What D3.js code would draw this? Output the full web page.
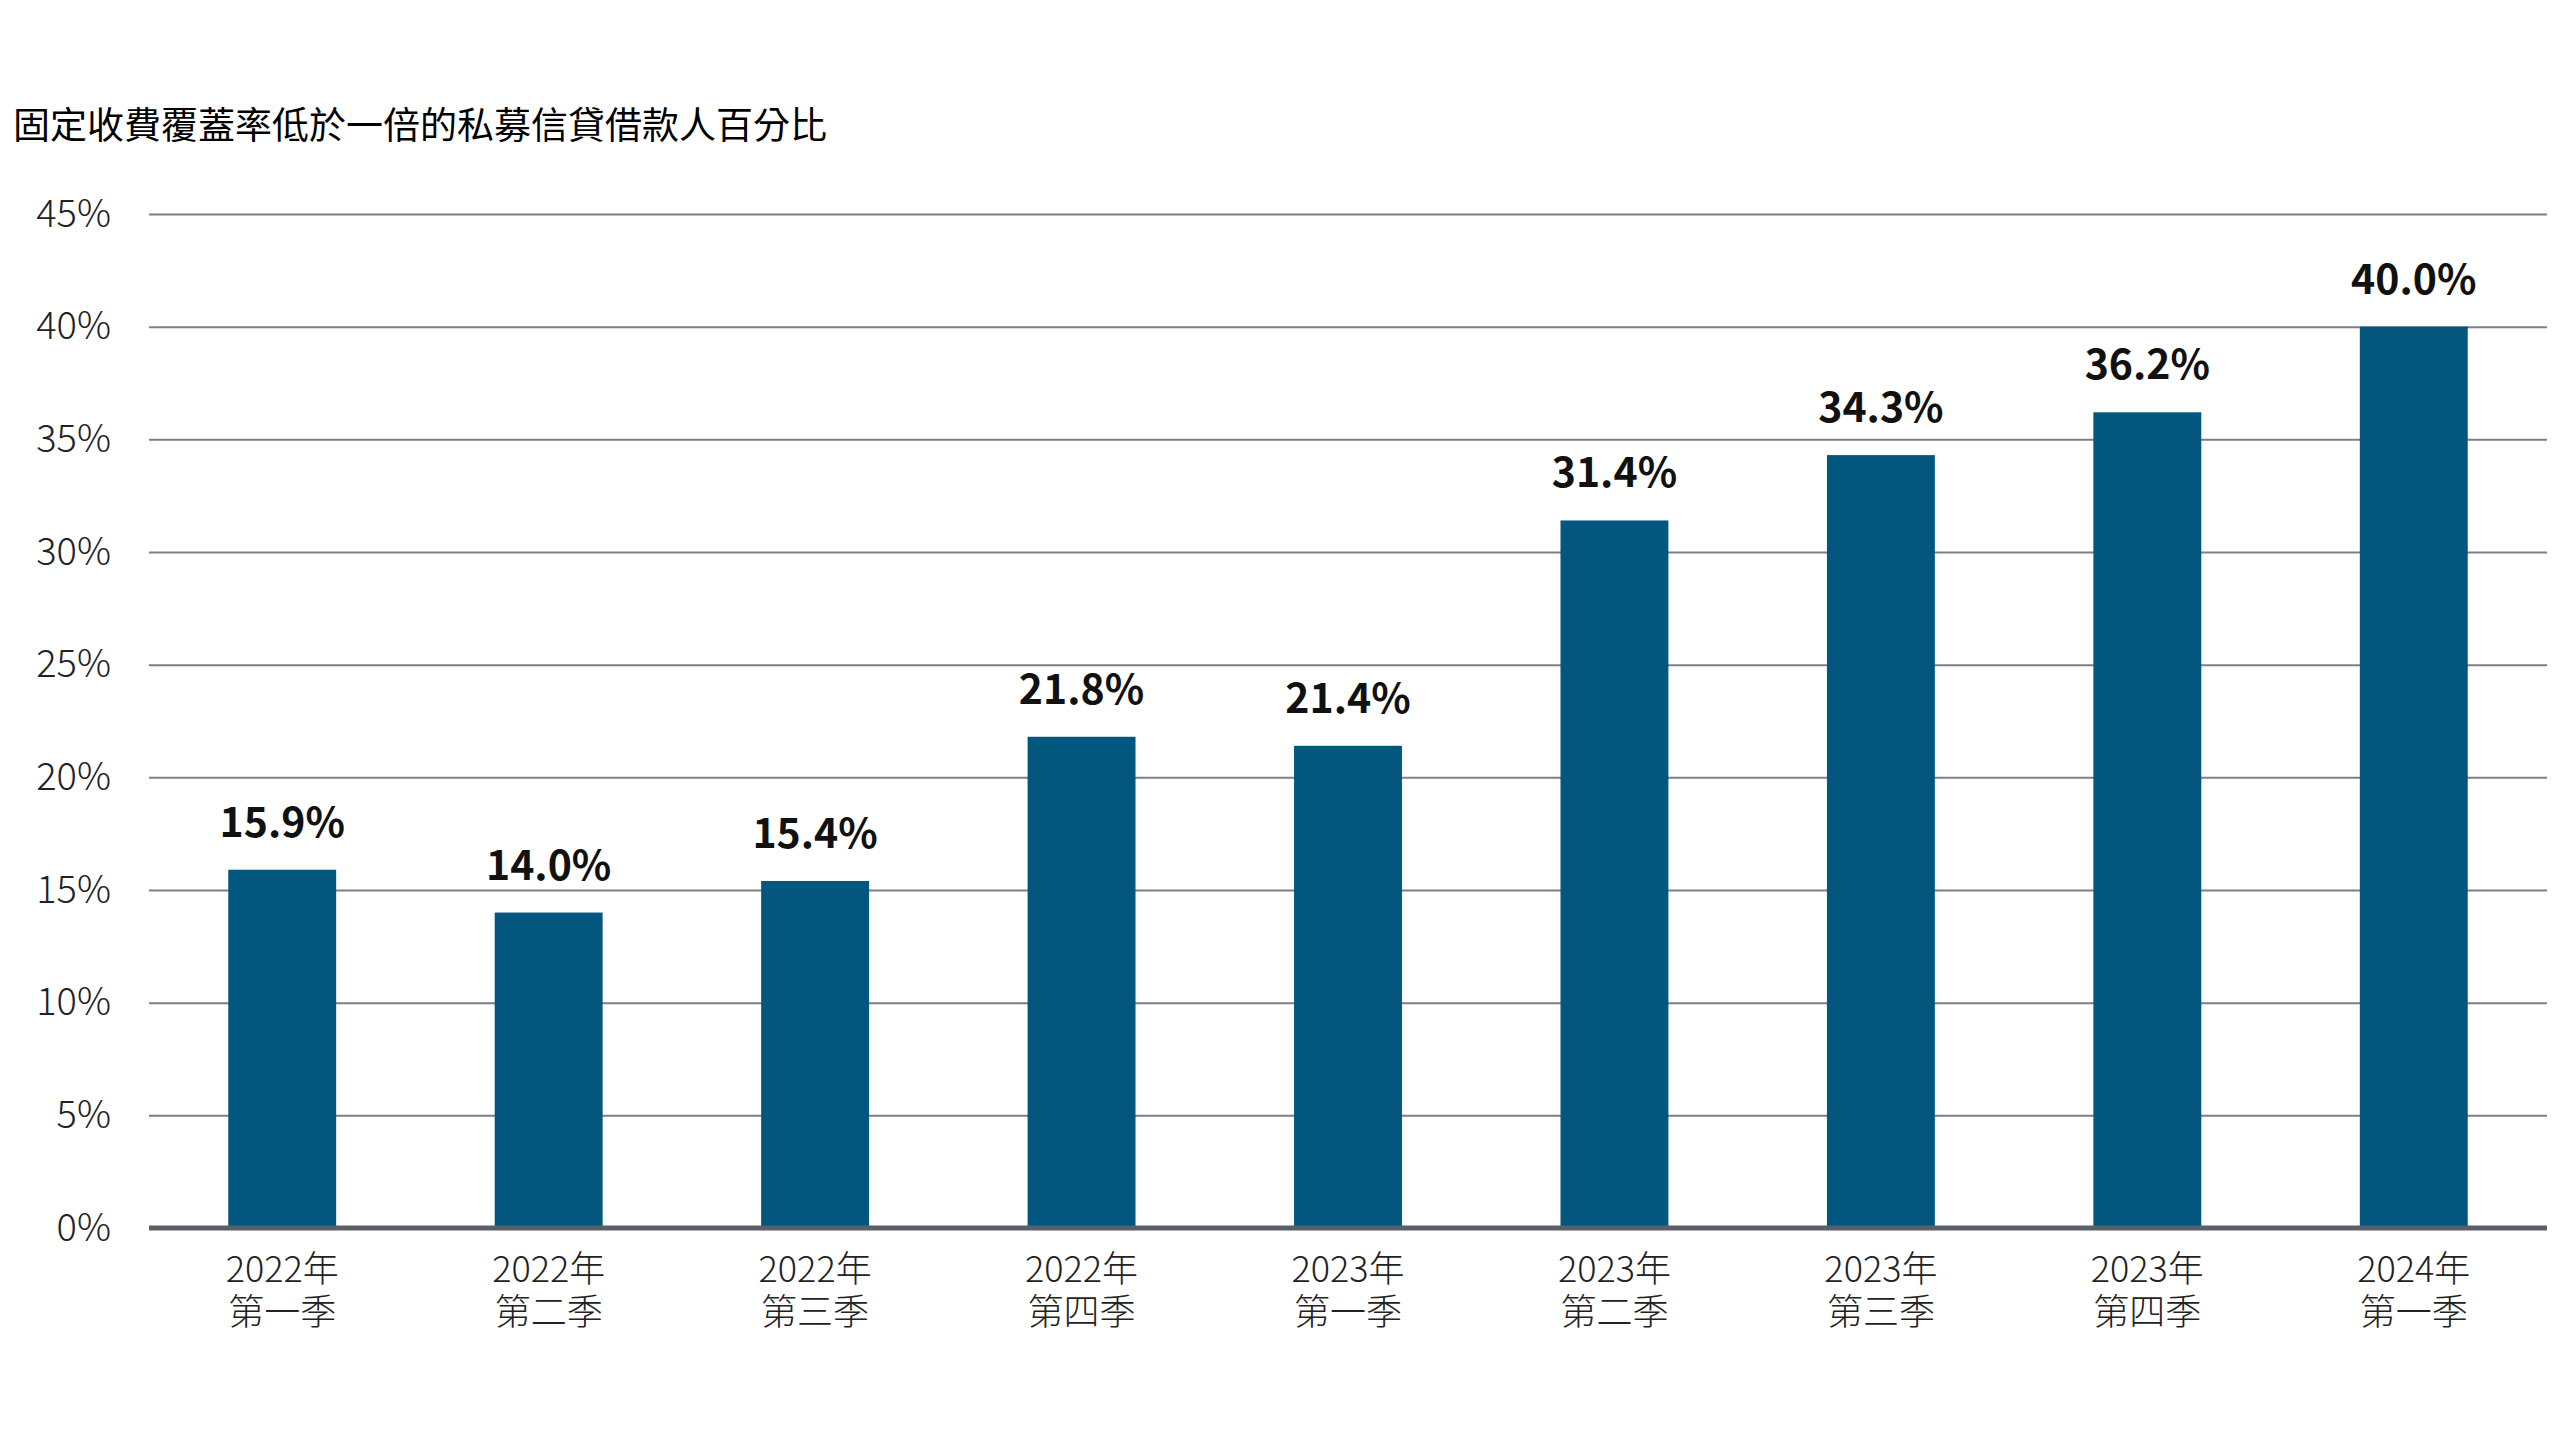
<!DOCTYPE html>
<html>
<head>
<meta charset="utf-8">
<script src="https://cdn.jsdelivr.net/npm/d3@7"></script>
<style>
  html, body { margin: 0; padding: 0; background: #fff; }
  svg { display: block; }
  text { font-family: "Noto Sans CJK TC", "Noto Sans", sans-serif; }
</style>
</head>
<body>
<svg id="chart" width="2560" height="1440"></svg>
<script>
// Data
const years = ['2022年', '2022年', '2022年', '2022年', '2023年', '2023年', '2023年', '2023年', '2024年'];
const quarters = ['第一季', '第二季', '第三季', '第四季', '第一季', '第二季', '第三季', '第四季', '第一季'];
const values = [15.9, 14.0, 15.4, 21.8, 21.4, 31.4, 34.3, 36.2, 40.0];
const yTicks = [0, 5, 10, 15, 20, 25, 30, 35, 40, 45];
const title = '固定收費覆蓋率低於一倍的私募信貸借款人百分比';

const categories = years.map((y, i) => i);

// Layout
const plotLeft = 149, plotRight = 2547, plotTop = 214, plotBottom = 1228;
const barColor = '#03567e';

const svg = d3.select('#chart');

const x = d3.scaleBand()
  .domain(categories)
  .range([plotLeft, plotRight])
  .paddingInner(0.595)
  .paddingOuter(0.2975);

const y = d3.scaleLinear().domain([0, 45]).range([plotBottom, plotTop]);

// Title
svg.append('text')
  .attr('x', 13)
  .attr('y', 139)
  .attr('font-size', 37)
  .attr('fill', '#000')
  .text(title);

// Gridlines + y tick labels
const yAxis = svg.append('g')
  .attr('transform', `translate(${plotLeft},0)`)
  .call(d3.axisLeft(y)
    .tickValues(yTicks)
    .tickSize(-(plotRight - plotLeft))
    .tickPadding(38)
    .tickFormat(d => d + '%'));

yAxis.select('.domain').remove();
yAxis.selectAll('.tick line')
  .attr('stroke', '#7b8088')
  .attr('stroke-width', 2);
yAxis.selectAll('.tick text')
  .attr('font-size', 38)
  .attr('font-weight', 300)
  .attr('fill', '#222')
  .style('font-family', '"Noto Sans CJK TC", "Noto Sans", sans-serif');

// Bars
svg.append('g')
  .selectAll('rect')
  .data(values)
  .join('rect')
  .attr('x', (d, i) => x(i))
  .attr('y', d => y(d))
  .attr('width', x.bandwidth())
  .attr('height', d => y(0) - y(d))
  .attr('fill', barColor);

// Baseline
svg.append('line')
  .attr('x1', plotLeft)
  .attr('x2', plotRight)
  .attr('y1', y(0))
  .attr('y2', y(0))
  .attr('stroke', '#5b6068')
  .attr('stroke-width', 5);

// Value labels
svg.append('g')
  .selectAll('text')
  .data(values)
  .join('text')
  .attr('x', (d, i) => x(i) + x.bandwidth() / 2)
  .attr('y', d => y(d) - 33)
  .attr('text-anchor', 'middle')
  .attr('font-size', 41)
  .attr('font-weight', 700)
  .attr('fill', '#111')
  .text(d => d.toFixed(1) + '%');

// X labels (two lines)
const xAxis = svg.append('g')
  .attr('transform', `translate(0,${plotBottom})`)
  .call(d3.axisBottom(x).tickSize(0).tickFormat(''));
xAxis.select('.domain').remove();

xAxis.selectAll('.tick').each(function (i) {
  const t = d3.select(this).append('text')
    .attr('text-anchor', 'middle')
    .attr('font-size', 36)
    .attr('font-weight', 300)
    .attr('fill', '#222');
  t.append('tspan').attr('x', 0).attr('y', 54).text(years[i]);
  t.append('tspan').attr('x', 0).attr('y', 97).text(quarters[i]);
});
</script>
</body>
</html>
